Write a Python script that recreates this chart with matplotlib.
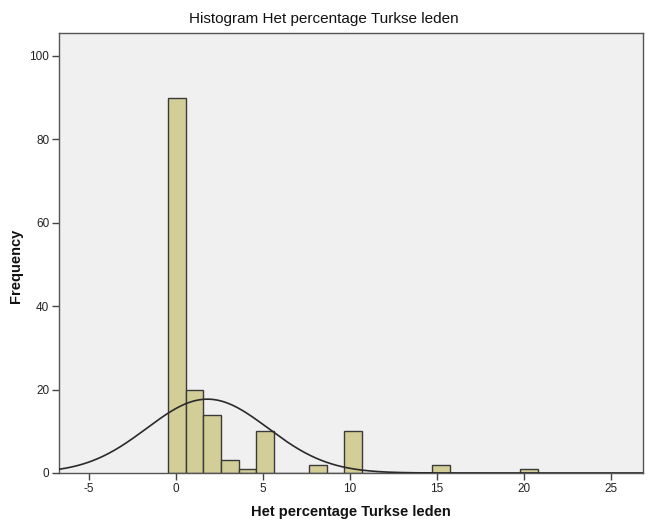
import numpy as np
import matplotlib
matplotlib.use("Agg")
import matplotlib.pyplot as plt

plt.rcParams["axes.unicode_minus"] = False

# Data
bin_start = -0.44
bin_width = 1.0106
counts = [90, 20, 14, 3, 1, 10, 0, 0, 2, 0, 10, 0, 0, 0, 0, 2, 0, 0, 0, 0, 1]
values = list(range(21))
x_ticks = [-5, 0, 5, 10, 15, 20, 25]
y_ticks = [0, 20, 40, 60, 80, 100]

counts = np.array(counts, dtype=float)
edges = bin_start + bin_width * np.arange(len(counts) + 1)
centers = np.array(values, dtype=float)
n = counts.sum()
mean = (counts * centers).sum() / n
sd = np.sqrt(((counts * (centers - mean) ** 2).sum()) / (n - 1))

fig = plt.figure(figsize=(6.47, 5.22), dpi=100)
ax = fig.add_axes([0.0912, 0.0939, 0.9026, 0.8429])
ax.set_facecolor("#F0F0F0")

ax.bar(edges[:-1], counts, width=bin_width, align="edge",
       color="#D3CE98", edgecolor="#3a3a3a", linewidth=1.0, zorder=2)

xs = np.linspace(-6.72, 26.84, 600)
ys = n * bin_width / (sd * np.sqrt(2 * np.pi)) * np.exp(-0.5 * ((xs - mean) / sd) ** 2)
ax.plot(xs, ys, color="#2a2a2a", linewidth=1.2, zorder=3)

ax.set_xlim(-6.72, 26.84)
ax.set_ylim(0, 105.5)
ax.set_xticks(x_ticks)
ax.set_yticks(y_ticks)
ax.tick_params(axis="both", direction="out", length=5, width=1, color="#444444",
               labelsize=8.5, labelcolor="#222222", pad=2)
for s in ax.spines.values():
    s.set_color("#555555")
    s.set_linewidth(1)

fig.text(0.5, 0.963, "Histogram Het percentage Turkse leden", ha="center", va="center",
         fontsize=11, family="Liberation Sans", color="#111111")
fig.text(0.542, 0.019, "Het percentage Turkse leden", ha="center", va="center",
         fontsize=10.5, fontweight="bold", family="Liberation Sans", color="#111111")
fig.text(0.024, 0.49, "Frequency", ha="center", va="center", rotation=90,
         fontsize=10.5, fontweight="bold", family="Liberation Sans", color="#111111")
for lbl in ax.get_xticklabels() + ax.get_yticklabels():
    lbl.set_family("Liberation Sans")

fig.savefig("out.png", dpi=100)
